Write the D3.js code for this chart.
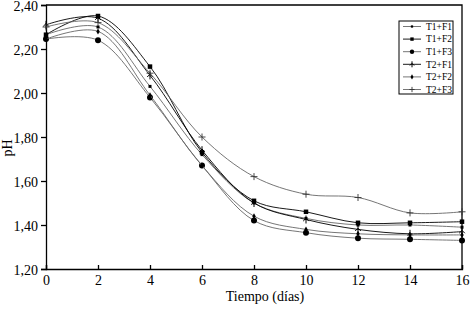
<!DOCTYPE html>
<html lang="es">
<head>
<meta charset="utf-8">
<title>pH vs tiempo</title>
<script src="https://cdn.jsdelivr.net/npm/d3@7"></script>
<style>
  body { margin: 0; background: #fff; }
  svg text { font-family: "Liberation Serif", "Times New Roman", serif; fill: #000; }
</style>
</head>
<body>
<svg width="473" height="309"></svg>
<script>
var dias = [0, 2, 4, 6, 8, 10, 12, 14, 16];
var series = ["T1+F1", "T1+F2", "T1+F3", "T2+F1", "T2+F2", "T2+F3"];
var t1f1 = [2.265, 2.30, 2.03, 1.72, 1.50, 1.43, 1.40, 1.40, 1.39];
var t1f2 = [2.265, 2.35, 2.12, 1.73, 1.51, 1.46, 1.41, 1.41, 1.415];
var t1f3 = [2.245, 2.24, 1.98, 1.67, 1.42, 1.365, 1.34, 1.335, 1.33];
var t2f1 = [2.31, 2.34, 2.08, 1.74, 1.50, 1.425, 1.38, 1.36, 1.37];
var t2f2 = [2.245, 2.28, 1.99, 1.67, 1.44, 1.38, 1.36, 1.355, 1.355];
var t2f3 = [2.30, 2.32, 2.09, 1.80, 1.62, 1.54, 1.525, 1.455, 1.46];
var valores = [t1f1, t1f2, t1f3, t2f1, t2f2, t2f3];
var ticksY = [1.20, 1.40, 1.60, 1.80, 2.00, 2.20, 2.40];
var ticksX = [0, 2, 4, 6, 8, 10, 12, 14, 16];

// estilo de cada serie
var estilos = [
  { color: "#666", marca: "cuadro", t: 3 },
  { color: "#000", marca: "cuadro", t: 4.5 },
  { color: "#666", marca: "circulo", t: 3 },
  { color: "#000", marca: "estrella", t: 4 },
  { color: "#666", marca: "rombo", t: 3 },
  { color: "#666", marca: "cruz", t: 3.5 }
];

var svg = d3.select("svg");
var x = d3.scaleLinear().domain([0, 16]).range([46, 462]);
var y = d3.scaleLinear().domain([1.2, 2.4]).range([269, 5]);
var coma = function (d) { return d3.format(".2f")(d).replace(".", ","); };

// ejes
svg.append("g")
  .attr("transform", "translate(0,269)")
  .call(d3.axisBottom(x).tickValues(ticksX).tickSize(-4).tickPadding(8).tickFormat(d3.format("d")))
  .call(function (g) { g.selectAll("text").attr("font-size", 14).attr("dy", "0.6em"); });

svg.append("g")
  .attr("transform", "translate(46,0)")
  .call(d3.axisLeft(y).tickValues(ticksY).tickSize(5).tickPadding(3).tickFormat(coma))
  .call(function (g) { g.selectAll("text").attr("font-size", 14).attr("dy", "0.36em"); });

svg.selectAll(".domain").attr("stroke", "#000").attr("stroke-width", 1.3);
svg.selectAll(".tick line").attr("stroke", "#000").attr("stroke-width", 1.3);

// marco superior y derecho
svg.append("path")
  .attr("d", "M" + x(0) + "," + y(2.4) + "H" + x(16) + "V" + y(1.2))
  .attr("fill", "none").attr("stroke", "#000").attr("stroke-width", 1.3);

svg.append("text").attr("x", 265).attr("y", 301).attr("text-anchor", "middle")
  .attr("font-size", 14).text("Tiempo (días)");
svg.append("text").attr("transform", "translate(12,148) rotate(-90)")
  .attr("text-anchor", "middle").attr("font-size", 14).text("pH");

function marca(g, e, cx, cy) {
  var t = e.t;
  if (e.marca === "cuadro") {
    g.append("rect").attr("x", cx - t / 2).attr("y", cy - t / 2).attr("width", t).attr("height", t).attr("fill", "#000");
  } else if (e.marca === "circulo") {
    g.append("circle").attr("cx", cx).attr("cy", cy).attr("r", t).attr("fill", "#000");
  } else if (e.marca === "rombo") {
    g.append("path").attr("d", d3.symbol(d3.symbolDiamond, t * 3.5)()).attr("transform", "translate(" + cx + "," + cy + ")").attr("fill", "#000");
  } else if (e.marca === "estrella") {
    g.append("path").attr("d", "M" + cx + "," + (cy - t) + "V" + (cy + t) + "M" + (cx - t * 0.7) + "," + (cy + t * 0.4) + "L" + cx + "," + (cy - t * 0.3) + "L" + (cx + t * 0.7) + "," + (cy + t * 0.4))
      .attr("fill", "none").attr("stroke", "#000").attr("stroke-width", 1);
  } else {
    g.append("path").attr("d", "M" + cx + "," + (cy - t) + "V" + (cy + t) + "M" + (cx - t) + "," + cy + "H" + (cx + t))
      .attr("fill", "none").attr("stroke", "#333").attr("stroke-width", 0.9);
  }
}

var linea = d3.line()
  .x(function (d) { return x(d[0]); })
  .y(function (d) { return y(d[1]); })
  .curve(d3.curveCatmullRom.alpha(0.5));

valores.forEach(function (v, i) {
  var e = estilos[i];
  var pts = dias.map(function (d, j) { return [d, v[j]]; });
  var g = svg.append("g");
  g.append("path").attr("d", linea(pts)).attr("fill", "none")
    .attr("stroke", e.color).attr("stroke-width", 0.9);
  pts.forEach(function (p) { marca(g, e, x(p[0]), y(p[1])); });
});

// leyenda
var ley = svg.append("g");
ley.append("rect").attr("x", 399).attr("y", 21).attr("width", 54).attr("height", 73)
  .attr("fill", "#fff").attr("stroke", "#000").attr("stroke-width", 1);
series.forEach(function (s, i) {
  var yy = 26.5 + i * 12.6;
  var e = estilos[i];
  ley.append("line").attr("x1", 403).attr("x2", 421).attr("y1", yy).attr("y2", yy)
    .attr("stroke", e.color).attr("stroke-width", 0.9);
  var em = Object.assign({}, e, { t: e.marca === "circulo" ? 2.2 : e.t * 0.75 });
  marca(ley, em, 412, yy);
  ley.append("text").attr("x", 426).attr("y", yy).attr("dy", "0.35em")
    .attr("font-size", 9.5).text(s);
});
</script>
</body>
</html>
